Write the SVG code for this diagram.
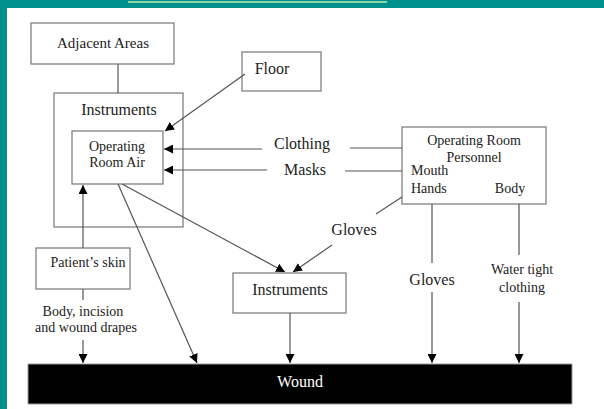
<svg xmlns="http://www.w3.org/2000/svg" width="604" height="409" viewBox="0 0 604 409">
<style>
text{font-family:"Liberation Serif","Times New Roman",serif;fill:#222;text-anchor:middle}
.box{fill:#fff;stroke:#808080;stroke-width:1.3}
.ln{stroke:#555;stroke-width:1.2;fill:none}
.arr{stroke:#555;stroke-width:1.2;fill:none;marker-end:url(#ah)}
.s14{font-size:14px}.s16{font-size:16px}.s15{font-size:15px}
</style>
<defs>
<marker id="ah" viewBox="0 0 10 10" refX="10" refY="5" markerWidth="9" markerHeight="9" markerUnits="userSpaceOnUse" orient="auto">
<path d="M0,0 L10,5 L0,10 z" fill="#000"/>
</marker>
</defs>
<rect x="0" y="0" width="604" height="409" fill="#fff"/>
<rect x="0" y="0" width="604" height="8" fill="#00918c"/>
<rect x="0" y="0" width="7" height="409" fill="#00918c"/>
<rect x="128" y="1" width="259" height="2" fill="#8fd8a4"/>

<g id="adjacent-areas">
<rect class="box" x="31" y="23" width="143" height="41"/>
<text class="s15" x="103" y="48">Adjacent Areas</text>
</g>
<g id="instruments-outer">
<rect class="box" x="54" y="93" width="129" height="134"/>
<text class="s16" x="119" y="115">Instruments</text>
</g>
<g id="operating-room-air">
<rect class="box" x="72" y="131" width="91" height="53"/>
<text class="s14" x="117" y="151">Operating</text>
<text class="s14" x="117" y="167">Room Air</text>
</g>
<g id="floor">
<rect class="box" x="242" y="52" width="79" height="39"/>
<text class="s16" x="272" y="74">Floor</text>
</g>
<g id="personnel">
<rect class="box" x="402" y="127" width="144" height="77"/>
<text class="s14" x="474" y="145">Operating Room</text>
<text class="s14" x="474" y="162">Personnel</text>
<text class="s14" x="411" y="175" style="text-anchor:start">Mouth</text>
<text class="s14" x="411" y="193" style="text-anchor:start">Hands</text>
<text class="s14" x="510" y="193">Body</text>
</g>
<g id="patients-skin">
<rect class="box" x="36" y="248" width="94" height="41"/>
<text class="s14" x="88" y="267">Patient’s skin</text>
</g>
<g id="instruments">
<rect class="box" x="233" y="273" width="113" height="40"/>
<text class="s16" x="290" y="295">Instruments</text>
</g>
<g id="wound">
<rect x="28" y="364" width="544" height="40" fill="#000" stroke="#999" stroke-width="1"/>
<text class="s16" x="300" y="387" style="fill:#fff">Wound</text>
</g>

<g id="connectors">
<line class="ln" x1="118" y1="64" x2="118" y2="93"/>
<line class="arr" x1="245" y1="74" x2="165" y2="131"/>
<line class="arr" x1="262" y1="149" x2="164" y2="149"/>
<line class="arr" x1="267" y1="170" x2="164" y2="170"/>
<line class="ln" x1="350" y1="148" x2="402" y2="148"/>
<line class="ln" x1="345" y1="171" x2="402" y2="171"/>
<line class="ln" x1="402" y1="197" x2="376" y2="214"/>
<line class="arr" x1="332" y1="245" x2="293" y2="272"/>
<line class="arr" x1="122" y1="184" x2="285" y2="272"/>
<line class="arr" x1="118" y1="184" x2="197" y2="363"/>
<line class="arr" x1="83" y1="248" x2="83" y2="185"/>
<line class="ln" x1="83" y1="289" x2="83" y2="300"/>
<line class="arr" x1="83" y1="340" x2="83" y2="363"/>
<line class="arr" x1="290" y1="313" x2="290" y2="363"/>
<line class="ln" x1="432" y1="204" x2="432" y2="263"/>
<line class="arr" x1="432" y1="292" x2="432" y2="363"/>
<line class="ln" x1="519" y1="204" x2="519" y2="255"/>
<line class="arr" x1="519" y1="302" x2="519" y2="363"/>
<text class="s16" x="302" y="149">Clothing</text>
<text class="s16" x="305" y="175">Masks</text>
<text class="s16" x="354" y="235">Gloves</text>
<text class="s16" x="432" y="285">Gloves</text>
<text class="s14" x="83" y="316">Body, incision</text>
<text class="s14" x="86" y="332">and wound drapes</text>
<text class="s14" x="522" y="274">Water tight</text>
<text class="s14" x="522" y="292">clothing</text>
</g>
</svg>
